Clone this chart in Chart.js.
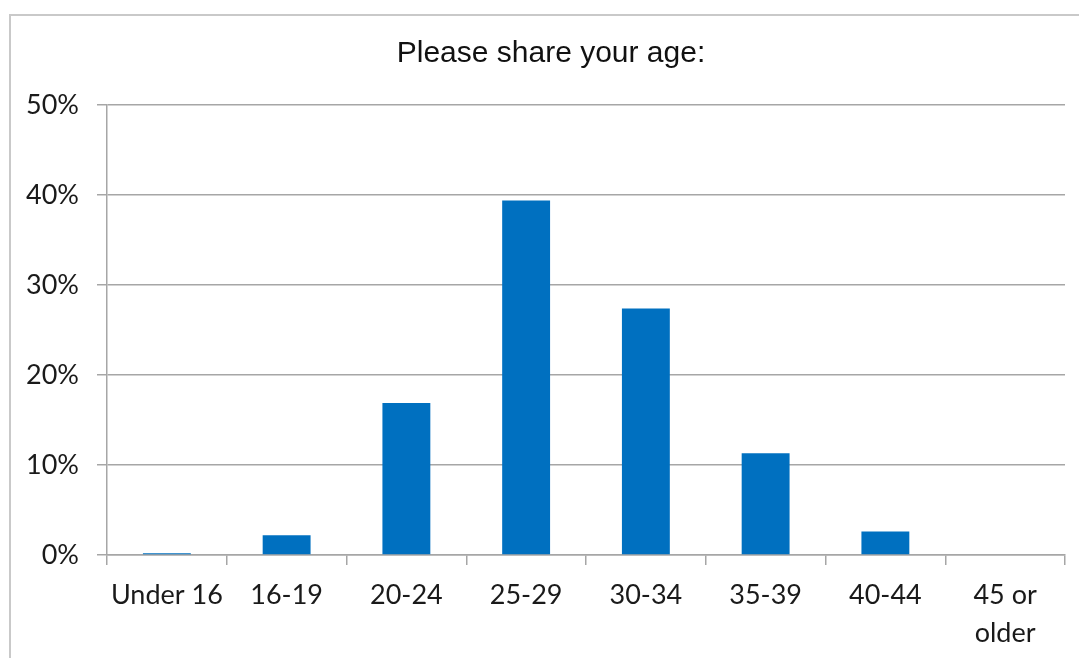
<!DOCTYPE html>
<html>
<head>
<meta charset="utf-8">
<title>Please share your age:</title>
<script src="https://cdn.jsdelivr.net/npm/chart.js@4.4.1/dist/chart.umd.min.js"></script>
<style>
  html, body { margin: 0; padding: 0; background: #ffffff; }
  #wrap { width: 1079px; height: 658px; }
</style>
</head>
<body>
<div id="wrap"><canvas id="ageChart" width="1079" height="658"></canvas></div>
<script>
// Survey answers: share of respondents in each age group (percent)
const categories = ['Under 16', '16-19', '20-24', '25-29', '30-34', '35-39', '40-44', ['45 or', 'older']];
const shares = [0.2, 2.2, 16.9, 39.4, 27.4, 11.3, 2.6, 0];
const yTicks = [0, 10, 20, 30, 40, 50];
const chartTitle = 'Please share your age:';

const GRID = '#a6a6a6';
const LABEL_FONT = { family: 'Lato, "Open Sans", sans-serif', size: 27, lineHeight: 1.38 };

// White page with a thin grey frame, plus the centred heading
const framePlugin = {
  id: 'frameAndHeading',
  beforeDraw(chart) {
    const ctx = chart.ctx;
    ctx.save();
    ctx.fillStyle = '#ffffff';
    ctx.fillRect(0, 0, chart.width, chart.height);
    ctx.strokeStyle = '#c9c9c9';
    ctx.lineWidth = 2;
    ctx.strokeRect(10, 15, chart.width + 40, chart.height + 40);
    ctx.restore();
  },
  afterDraw(chart) {
    const ctx = chart.ctx;
    ctx.save();
    ctx.fillStyle = '#111111';
    ctx.font = '30px "Liberation Sans", Arial, sans-serif';
    ctx.textAlign = 'center';
    ctx.textBaseline = 'middle';
    ctx.fillText(chartTitle, 551, 54);
    ctx.restore();
  }
};

new Chart(document.getElementById('ageChart'), {
  type: 'bar',
  data: {
    labels: categories,
    datasets: [{
      data: shares,
      backgroundColor: '#0070c0',
      borderWidth: 0,
      barPercentage: 0.4,
      categoryPercentage: 1.0
    }]
  },
  options: {
    responsive: false,
    animation: false,
    events: [],
    layout: { padding: { left: 0, right: 14, top: 105, bottom: 0 } },
    plugins: {
      legend: { display: false },
      title: { display: false },
      tooltip: { enabled: false }
    },
    scales: {
      x: {
        offset: true,
        grid: {
          display: true,
          drawOnChartArea: false,
          drawTicks: true,
          tickLength: 10,
          color: GRID,
          lineWidth: 1.5,
          offset: true
        },
        border: { display: true, color: GRID, width: 1.5 },
        ticks: {
          color: '#1a1a1a',
          font: LABEL_FONT,
          padding: 12,
          maxRotation: 0,
          autoSkip: false
        },
        afterFit(scale) { scale.height = 103; }
      },
      y: {
        min: 0,
        max: 50,
        afterBuildTicks(scale) { scale.ticks = yTicks.map(v => ({ value: v })); },
        grid: {
          color: GRID,
          lineWidth: 1.5,
          drawTicks: true,
          tickLength: 10
        },
        border: { display: true, color: GRID, width: 1.5 },
        ticks: {
          color: '#1a1a1a',
          font: LABEL_FONT,
          padding: 18,
          callback: v => v + '%'
        },
        afterFit(scale) { scale.width = 107; }
      }
    }
  },
  plugins: [framePlugin]
});
</script>
</body>
</html>
